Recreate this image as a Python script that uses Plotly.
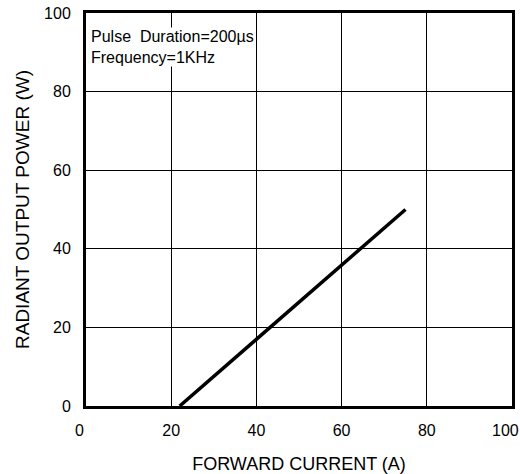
import plotly.graph_objects as go

# Data
current_a = [22, 75]          # forward current (A)
power_w = [0, 50]             # radiant output power (W)
x_ticks = [0, 20, 40, 60, 80, 100]
y_ticks = [0, 20, 40, 60, 80, 100]
note_lines = ["Pulse  Duration=200µs", "Frequency=1KHz"]

FONT = "Liberation Sans, Arial, Helvetica, sans-serif"
NB = "\u00a0"

fig = go.Figure()
fig.add_trace(go.Scatter(
    x=current_a, y=power_w, mode="lines",
    line=dict(color="black", width=3.5),
    showlegend=False, hoverinfo="skip",
))

fig.add_annotation(
    x=0, y=1, xref="paper", yref="paper",
    xanchor="left", yanchor="top", xshift=4, yshift=-14,
    text="<br>".join(note_lines), align="left", showarrow=False,
    bgcolor="white", borderpad=0,
    font=dict(family=FONT, size=16, color="black"),
)

axis_common = dict(
    showgrid=True, gridcolor="black", gridwidth=1,
    showline=True, linecolor="black", linewidth=3, mirror=True,
    ticks="", zeroline=False, ticklabeloverflow="allow",
    tickfont=dict(family=FONT, size=16, color="black"),
)

# edge labels sit slightly left of their gridlines in the original scan
x_text = [str(v) for v in x_ticks]
x_text[0] = x_text[0] + NB * 3
x_text[-1] = x_text[-1] + NB * 3

fig.update_xaxes(
    range=[0, 100], tickvals=x_ticks, ticktext=x_text,
    ticklabelstandoff=8,
    title=dict(text=NB * 3 + "FORWARD CURRENT (A)", standoff=37,
               font=dict(family=FONT, size=18, color="black")),
    **axis_common,
)
fig.update_yaxes(
    range=[0, 100], tickvals=y_ticks, ticktext=[str(v) for v in y_ticks],
    ticklabelstandoff=9,
    title=dict(text=NB * 2 + "RADIANT OUTPUT POWER (W)", standoff=10,
               font=dict(family=FONT, size=19, color="black")),
    **axis_common,
)

fig.update_layout(
    width=520, height=474,
    margin=dict(l=86, r=8, t=13, b=68, autoexpand=False),
    paper_bgcolor="white", plot_bgcolor="white",
    font=dict(family=FONT, color="black"),
)

fig.write_html(
    "out.html",
    config={"displayModeBar": False},
    post_script="document.body.style.margin='0';document.body.style.overflow='hidden';",
)
